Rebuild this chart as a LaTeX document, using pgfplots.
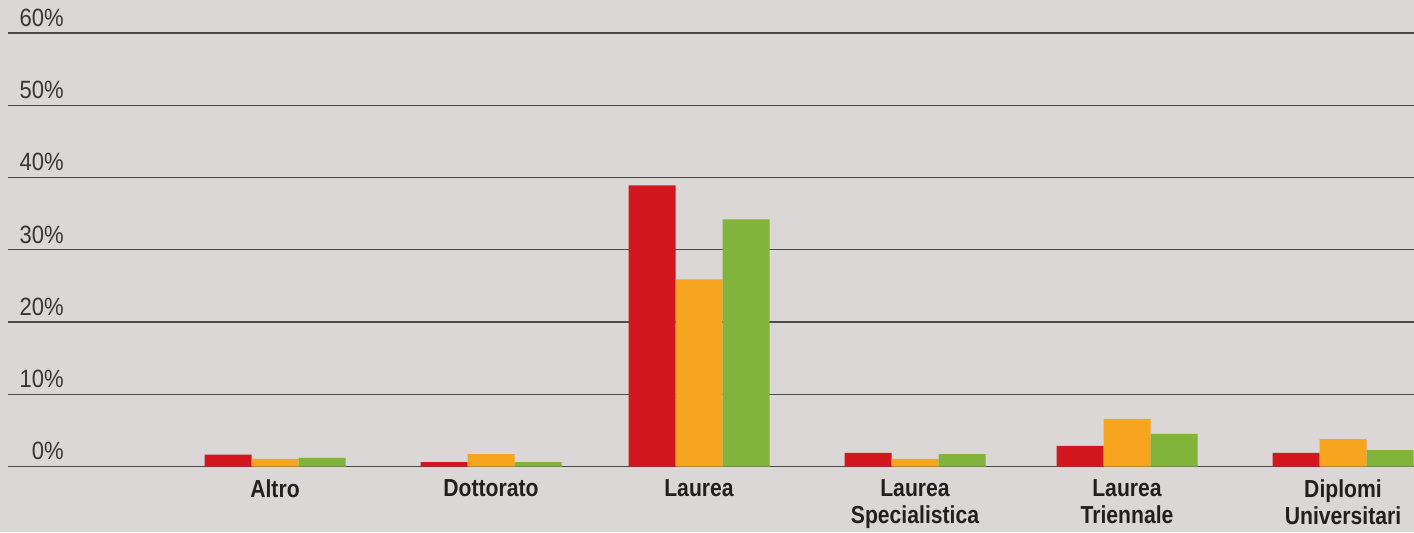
\documentclass[border=0pt]{standalone}
\usepackage{pgfplots}
\usepackage{pgfplotstable}
\pgfplotsset{compat=1.18}
\usepackage{fontspec}
\setmainfont{Liberation Sans}[FakeStretch=0.88]
\newfontfamily\catfont{Liberation Sans}[FakeStretch=0.86]
\definecolor{bg}{HTML}{DBD7D6}
\definecolor{cred}{HTML}{D2171E}
\definecolor{corange}{HTML}{F7A51F}
\definecolor{cgreen}{HTML}{80B43A}
\definecolor{txt}{HTML}{231F20}
\definecolor{gridc}{HTML}{4A4A4A}

\pgfplotstableread{
x red orange green
275 1.65 1.05 1.2
491 0.62 1.73 0.62
699 38.9 25.9 34.2
915 1.87 1.05 1.73
1127 2.84 6.6 4.5
1343 1.87 3.8 2.28
}\data

\begin{document}
\begin{tikzpicture}
\path[use as bounding box, fill=bg] (0,0) rectangle (707pt,266pt);
\begin{axis}[
  at={(4pt,32.75pt)}, anchor=south west,
  scale only axis, width=703pt, height=216.75pt,
  xmin=8, xmax=1414, ymin=0, ymax=60,
  enlargelimits=false,
  ybar=0pt, bar width=23.5pt,
  axis line style={draw=none},
  major tick length=0pt,
  ymajorgrids, grid style={draw=gridc, line width=0.7pt},
  ytick={0,10,...,60},
  yticklabel={\pgfmathprintnumber{\tick}\%},
  yticklabel style={anchor=south east, inner sep=0pt, xshift=28pt, yshift=3pt, font=\fontsize{12.5}{14}\selectfont, text=txt!90},
  xtick={275,491,699,915,1127,1343},
  xticklabels={Altro, Dottorato, Laurea, {Laurea\\Specialistica}, {Laurea\\Triennale}, {Diplomi\\Universitari}},
  xticklabel style={anchor=north, inner sep=0pt, yshift=-6.5pt, align=center, font=\catfont\bfseries\fontsize{12.3}{13.5}\selectfont, text=txt},
  /pgf/number format/assume math mode=true,
]
\addplot[fill=cred, draw=none] table[x=x, y=red] {\data};
\addplot[fill=corange, draw=none] table[x=x, y=orange] {\data};
\addplot[fill=cgreen, draw=none] table[x=x, y=green] {\data};
\end{axis}
\end{tikzpicture}
\end{document}
